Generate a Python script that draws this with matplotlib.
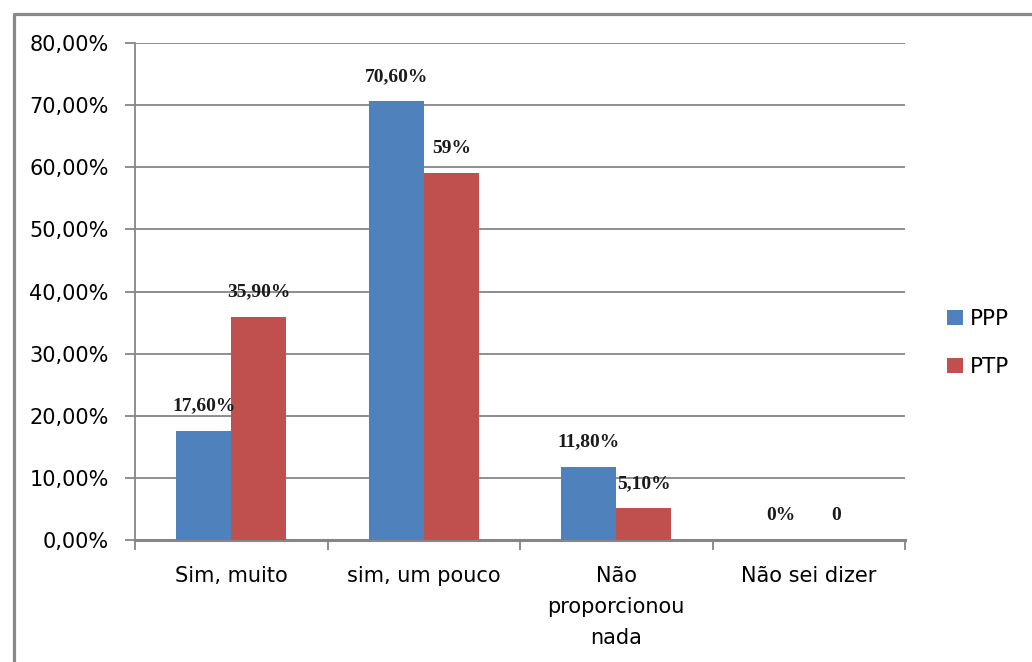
import matplotlib.pyplot as plt
from matplotlib.lines import Line2D
from matplotlib.ticker import FuncFormatter
import numpy as np

categories = ['Sim, muito', 'sim, um pouco', 'Não\nproporcionou\nnada', 'Não sei dizer']
ppp = [17.6, 70.6, 11.8, 0.0]
ptp = [35.9, 59.0, 5.1, 0.0]
ppp_labels = ['17,60%', '70,60%', '11,80%', '0%']
ptp_labels = ['35,90%', '59%', '5,10%', '0']
series_names = ['PPP', 'PTP']

BLUE = '#4F81BD'
RED = '#C0504D'
GRID = '#868686'

plt.rcParams['font.family'] = 'DejaVu Sans'

fig = plt.figure(figsize=(10.32, 6.62), dpi=100)
ax = fig.add_axes([135/1032, 1 - 540/662, 770/1032, 497/662])

x = np.arange(len(categories))
w = 0.2857
b1 = ax.bar(x - w/2, ppp, w, color=BLUE, label=series_names[0], zorder=3)
b2 = ax.bar(x + w/2, ptp, w, color=RED, label=series_names[1], zorder=3)

# value labels above each bar
for bars, labels in ((b1, ppp_labels), (b2, ptp_labels)):
	for rect, txt in zip(bars, labels):
		ax.annotate(txt, (rect.get_x() + rect.get_width()/2, rect.get_height()),
			xytext=(0, 18), textcoords='offset points', ha='center', va='center',
			fontsize=14, family='Liberation Serif', fontweight='semibold', color='#1a1a1a')

ax.set_xlim(-0.5, len(categories) - 0.5)
ax.set_ylim(0, 80)
ax.set_yticks(np.arange(0, 81, 10))
ax.yaxis.set_major_formatter(FuncFormatter(lambda v, p: ('%.2f%%' % v).replace('.', ',')))
ax.yaxis.grid(True, color=GRID, linewidth=1.3, zorder=0)
ax.set_axisbelow(True)

# category ticks sit on the group boundaries, labels in the middle
ax.set_xticks(np.arange(-0.5, len(categories), 1.0))
ax.set_xticklabels([])
ax.set_xticks(x, minor=True)
ax.set_xticklabels(categories, minor=True, fontsize=15, linespacing=1.67)
ax.tick_params(axis='x', which='minor', length=0, pad=19)
ax.tick_params(axis='x', which='major', length=7, width=1.3, color=GRID)
ax.tick_params(axis='y', length=7, width=1.3, color=GRID, labelsize=15, pad=12)

for s in ('top', 'right'):
	ax.spines[s].set_visible(False)
ax.spines['left'].set_color(GRID)
ax.spines['left'].set_linewidth(1.3)
ax.spines['bottom'].set_color(GRID)
ax.spines['bottom'].set_linewidth(2.2)

leg = fig.legend(handles=[b1, b2], loc='upper left', bbox_to_anchor=(947/1032, 1 - 309/662),
	frameon=False, fontsize=15.5, handlelength=0.75, handleheight=0.75, handletextpad=0.3,
	labelspacing=1.3, borderpad=0, borderaxespad=0)

# chart frame (top and left edges)
fig.add_artist(Line2D([13.5/1032, 13.5/1032, 1.0], [0.0, 1 - 13.5/662, 1 - 13.5/662],
	transform=fig.transFigure, color='#888888', linewidth=2.3))

fig.savefig('out.png', dpi=100)
